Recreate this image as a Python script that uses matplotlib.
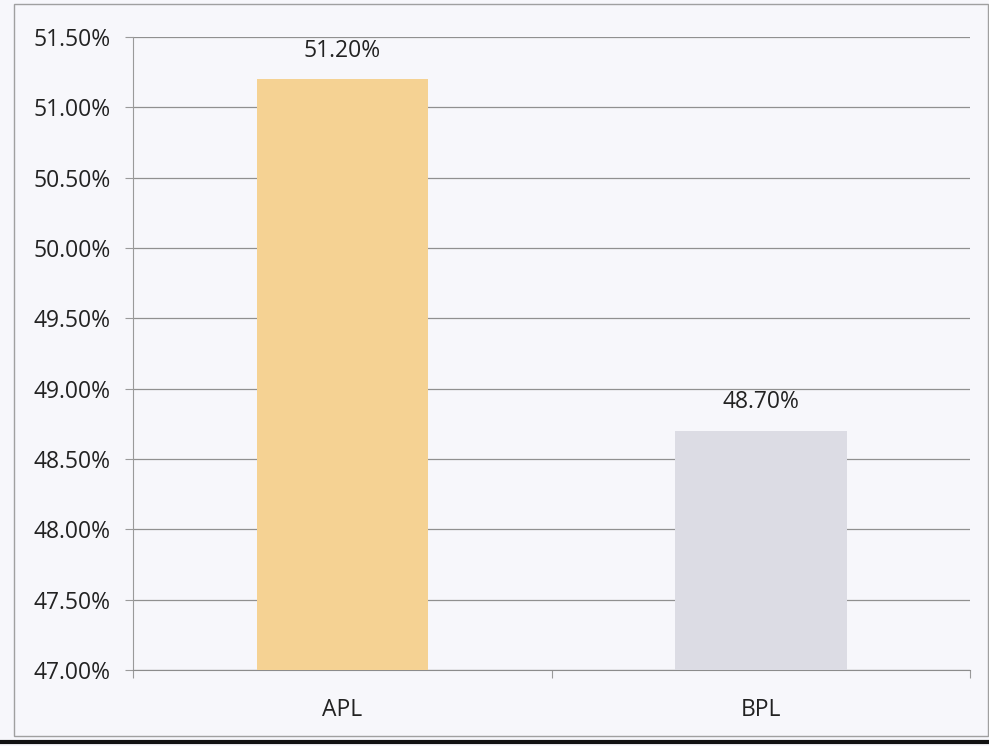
import matplotlib.pyplot as plt
from matplotlib.patches import Rectangle
from matplotlib.lines import Line2D
from matplotlib.ticker import FuncFormatter, FixedLocator

# data
categories = ['APL', 'BPL']
values = [51.20, 48.70]
bar_colors = ['#F5D293', '#DCDCE4']
y_ticks = [47.0, 47.5, 48.0, 48.5, 49.0, 49.5, 50.0, 50.5, 51.0, 51.5]

plt.rcParams['font.family'] = ['Open Sans', 'DejaVu Sans']

bg = '#F7F7FB'
fig = plt.figure(figsize=(9.89, 7.46), dpi=100, facecolor=bg)
ax = fig.add_axes([0.1345, 0.1019, 0.8465, 0.8485])
ax.set_facecolor(bg)

x = list(range(len(categories)))
ax.bar(x, values, width=0.41, color=bar_colors, zorder=3)

for xi, v in zip(x, values):
    ax.annotate(f'{v:.2f}%', (xi, v), xytext=(0, 12), textcoords='offset points',
                ha='center', va='bottom', fontsize=16.5, color='#222222')

ax.set_xlim(-0.5, len(categories) - 0.5)
ax.set_ylim(47.0, 51.5)
ax.yaxis.set_major_locator(FixedLocator(y_ticks))
ax.yaxis.set_major_formatter(FuncFormatter(lambda v, p: f'{v:.2f}%'))
ax.grid(axis='y', color='#909090', linewidth=0.9, zorder=0)

ax.set_xticks(x)
ax.set_xticklabels(categories)
ax.set_xticks([-0.5, 0.5, 1.5], minor=True)
ax.tick_params(axis='x', which='major', length=0, pad=20, labelsize=16.5, labelcolor='#222222')
ax.tick_params(axis='x', which='minor', length=6, color='#9A9A9A', width=0.8)
ax.tick_params(axis='y', length=6, color='#9A9A9A', width=0.8, pad=10,
               labelsize=16.5, labelcolor='#222222')

for side in ['top', 'right']:
    ax.spines[side].set_visible(False)
ax.spines['left'].set_color('#9A9A9A')
ax.spines['bottom'].set_color('#8C8C8C')

# outer chart frame
fig.patches.append(Rectangle((14 / 989, 1 - 736 / 746), (988 - 14) / 989, (736 - 4) / 746,
                             transform=fig.transFigure, fill=False,
                             edgecolor='#A0A0A0', linewidth=1.0))
fig.lines.append(Line2D([0, 1], [1 - 742 / 746, 1 - 742 / 746], transform=fig.transFigure,
                        color='#111111', linewidth=3))

fig.savefig('out.png', dpi=100, facecolor=bg)
